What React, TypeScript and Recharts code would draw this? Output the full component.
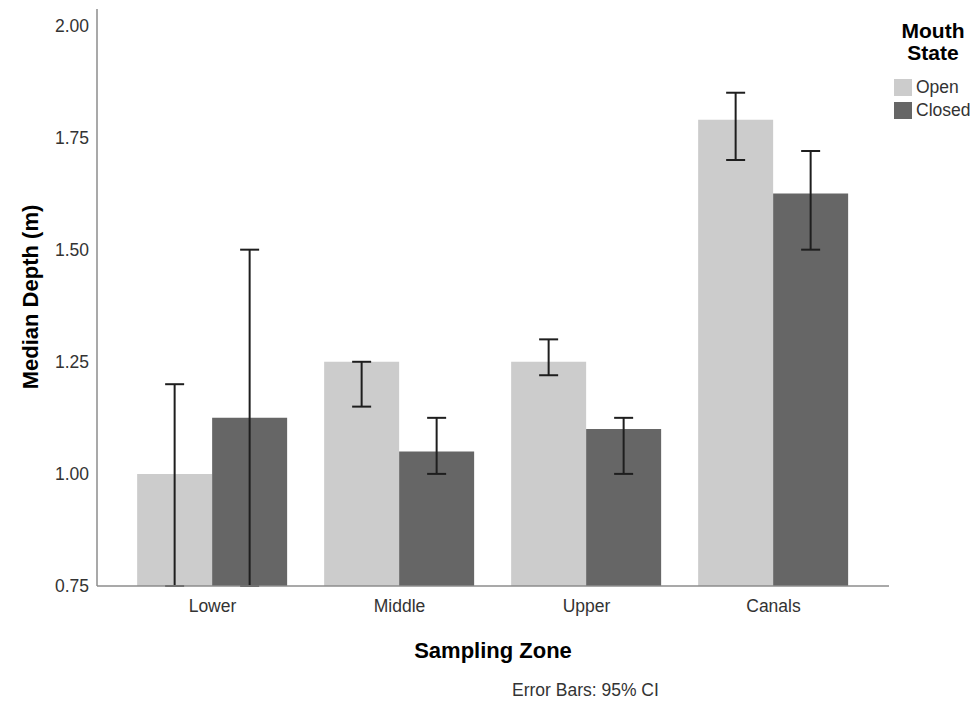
import React from 'react';
import { BarChart, Bar, XAxis, YAxis, ErrorBar, Label } from 'recharts';

const zones = ['Lower', 'Middle', 'Upper', 'Canals'];
const openMedian = [1.0, 1.25, 1.25, 1.79];
const openLow = [0.75, 1.15, 1.22, 1.70];
const openHigh = [1.20, 1.25, 1.30, 1.85];
const closedMedian = [1.125, 1.05, 1.10, 1.625];
const closedLow = [0.75, 1.0, 1.0, 1.50];
const closedHigh = [1.50, 1.125, 1.125, 1.72];
const yTicks = [0.75, 1.0, 1.25, 1.5, 1.75, 2.0];
const seriesNames = ['Open', 'Closed'];
const seriesColors = ['#cccccc', '#666666'];

const data = zones.map((z, i) => ({
  zone: z,
  open: openMedian[i],
  openErr: [openMedian[i] - openLow[i], openHigh[i] - openMedian[i]],
  closed: closedMedian[i],
  closedErr: [closedMedian[i] - closedLow[i], closedHigh[i] - closedMedian[i]],
}));

const FONT = '"Liberation Sans", Arial, sans-serif';

export default function App() {
  return (
    <div style={{ position: 'absolute', left: 0, top: 0, width: 972, height: 705, fontFamily: FONT }}>
      <BarChart
        width={972}
        height={705}
        data={data}
        margin={{ top: 9, right: 83, bottom: 0, left: 0 }}
        barCategoryGap="9.7%"
        barGap={0}
      >
        <XAxis
          dataKey="zone"
          height={119}
          padding={{ left: 22, right: 22 }}
          tickLine={false}
          tickSize={0}
          tickMargin={14}
          axisLine={{ stroke: '#8c8c8c', strokeWidth: 1.5 }}
          tick={{ fill: '#333333', fontSize: 17.5, fontFamily: FONT }}
        >
          <Label
            content={() => (
              <text x={493} y={658} textAnchor="middle" fontFamily={FONT} fontSize={22} fontWeight="bold" fill="#000">
                Sampling Zone
              </text>
            )}
          />
        </XAxis>
        <YAxis
          type="number"
          width={97}
          domain={[0.75, 2.0367]}
          allowDataOverflow
          ticks={yTicks}
          tickFormatter={(v: number) => v.toFixed(2)}
          tickLine={false}
          tickSize={0}
          tickMargin={8}
          axisLine={{ stroke: '#8c8c8c', strokeWidth: 1.5 }}
          tick={{ fill: '#333333', fontSize: 17.5, fontFamily: FONT }}
        >
          <Label
            content={() => (
              <text
                x={30}
                y={297}
                transform="rotate(-90 30 297)"
                textAnchor="middle"
                dominantBaseline="central"
                fontFamily={FONT}
                fontSize={22}
                fontWeight="bold"
                fill="#000"
              >
                Median Depth (m)
              </text>
            )}
          />
        </YAxis>
        <Bar dataKey="open" name={seriesNames[0]} fill={seriesColors[0]} isAnimationActive={false}>
          <ErrorBar dataKey="openErr" width={9.5} stroke="#1e1e1e" strokeWidth={2} direction="y" isAnimationActive={false} />
        </Bar>
        <Bar dataKey="closed" name={seriesNames[1]} fill={seriesColors[1]} isAnimationActive={false}>
          <ErrorBar dataKey="closedErr" width={9.5} stroke="#1e1e1e" strokeWidth={2} direction="y" isAnimationActive={false} />
        </Bar>
      </BarChart>
      <div
        style={{
          position: 'absolute',
          left: 895,
          top: 20,
          width: 76,
          textAlign: 'center',
          fontSize: 21,
          lineHeight: '22px',
          fontWeight: 'bold',
          color: '#000',
        }}
      >
        Mouth
        <br />
        State
      </div>
      {seriesNames.map((n, i) => (
        <div key={n} style={{ position: 'absolute', left: 894, top: 78 + i * 23, height: 18, display: 'flex', alignItems: 'center' }}>
          <div style={{ width: 18, height: 17, background: seriesColors[i] }} />
          <span style={{ marginLeft: 4, fontSize: 17.5, color: '#333333', lineHeight: '18px' }}>{n}</span>
        </div>
      ))}
      <div style={{ position: 'absolute', left: 512, top: 680, fontSize: 17.5, color: '#333333', lineHeight: '20px', whiteSpace: 'nowrap' }}>
        Error Bars: 95% CI
      </div>
    </div>
  );
}
